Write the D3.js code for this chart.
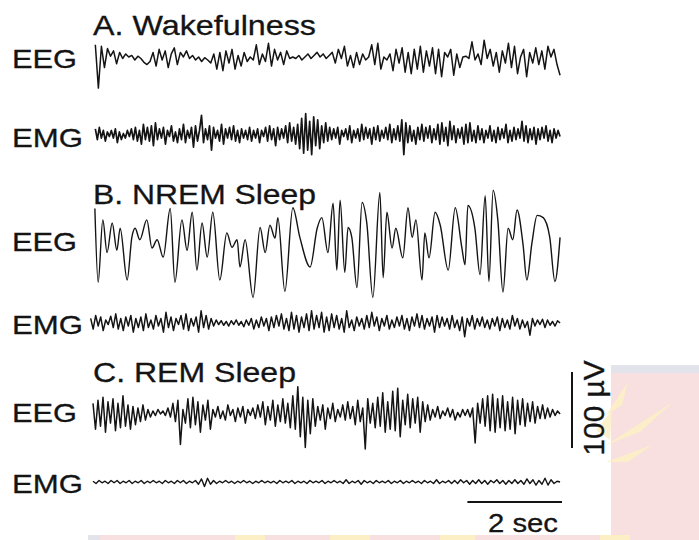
<!DOCTYPE html>
<html><head><meta charset="utf-8">
<script src="https://cdn.jsdelivr.net/npm/d3@7"></script>
<style>html,body{margin:0;padding:0;background:#fff;}svg{display:block}</style>
</head><body><svg id="chart" width="699" height="540"></svg>
<script>
// ---------- data ----------
const panelTitles = ["A. Wakefulness", "B. NREM Sleep", "C. REM Sleep"];
const channelNames = ["EEG", "EMG"];
const timeScaleLabel = "2 sec";
const ampScaleLabel = "100 µV";
const timeBarSec = [8, 10];
const ampBarUV = [-50, 50];

// A. Wakefulness (µV, evenly sampled)
const eegA = [20,-37,18,-10,15,5,12,-5,10,2,8,4,
  6,0,5,2,-3,-6,-2,
  10,-8,14,0,12,-10,8,16,-6,10,4,12,
  2,6,0,4,-2,3,0,-4,
  8,-12,10,-14,12,-4,14,-12,6,-8,10,-2,4,
  0,20,-6,8,-2,22,-8,14,0,10,-6,12,2,
  4,2,6,0,4,8,2,6,10,4,8,2,6,
  10,-4,14,2,18,-8,6,-10,10,-6,8,0,4,
  20,-6,22,-12,4,0,8,-14,14,-4,16,-16,10,
  -18,14,-12,18,-16,12,-8,16,-18,14,-22,10,4,14,-20,8,-10,
  4,5,2,
  24,0,8,-6,26,2,14,-8,10,-16,12,-4,22,-10,18,-18,4,
  14,-22,10,-4,16,-6,12,-12,18,4,14,-6,-20];
const emgA = [8,-6,10,-4,6,-8,4,-2,6,-4,8,-10,4,-6,2,-4,6,-2,8,-6,10,-8,6,-12,14,-6,10,-8,
  12,-14,16,-6,8,-4,10,-12,6,-2,12,-8,4,-10,8,-6,14,-10,6,-4,10,-16,12,-8,6,
  26,-10,8,-6,12,-20,10,-4,6,-8,14,-12,8,-4,10,-6,12,-8,6,-10,8,-4,6,-6,10,
  -8,6,-4,8,-10,6,-2,10,-8,12,-6,8,-14,10,-6,8,-4,12,-10,16,-8,10,-12,14,-18,
  22,-24,28,-20,18,-26,24,-14,20,-18,12,-10,16,-8,10,
  -6,8,-4,10,-12,6,-2,8,-6,12,-10,6,-4,8,-8,14,-6,10,-4,8,-12,10,-6,12,-8,6,-4,10,-6,14,-10,8,-6,12,-8,
  20,-26,16,-10,12,-8,6,-12,10,-6,14,-8,10,-4,12,-10,8,-6,14,-12,
  16,-8,10,-14,18,-6,12,-10,8,-4,10,-12,14,-10,16,-8,6,-10,12,-6,
  8,-10,6,-4,12,-8,6,-10,10,-6,8,-4,14,-10,6,-8,10,-6,8,-4,
  18,-8,12,-10,8,-6,10,-12,8,-6,10,-4,12,-8,6,-10,8,-4,6,-2];

// B. NREM sleep (µV, sampled at turning points; times in s)
const eegBTime = [0.04,0.11,0.21,0.30,0.41,0.51,0.58,0.73,0.83,0.90,1.00,1.15,1.26,1.37,1.50,1.65,1.75,1.90,2.01,2.12,
  2.22,2.33,2.44,2.56,2.71,2.86,2.97,3.08,3.14,3.25,3.42,3.57,3.68,3.78,3.89,3.95,4.10,4.27,4.42,4.64,
  4.79,4.89,5.02,5.13,5.21,5.28,5.38,5.45,5.53,5.64,5.75,5.85,5.98,6.13,6.20,6.28,6.39,6.47,6.62,6.73,
  6.82,6.90,7.03,7.09,7.18,7.31,7.42,7.59,7.74,7.88,7.95,8.01,8.16,8.27,8.38,8.46,8.55,8.65,8.76,8.87,
  8.97,9.06,9.19,9.27,9.38,9.49,9.62,9.76,9.87,9.98];
const eegB = [48,-49,33,-10,29,-7,22,-46,10,22,7,33,-4,7,-16,48,-49,33,-7,43,
  -33,29,-16,43,-46,16,-3,7,-29,7,-69,23,-10,26,9,36,-61,49,10,-29,
  22,36,-10,55,-33,59,-36,23,10,-56,56,29,-69,69,-43,43,-4,22,-17,49,
  10,33,-46,16,-17,43,26,-33,49,-3,-26,52,22,-39,65,-48,72,33,-62,22,
  7,46,0,-46,3,39,36,10,-48,10];
const emgB = [6,-8,10,-4,8,-10,4,-2,9,-6,12,-8,6,-10,8,-4,10,-12,6,-6,
  8,-10,12,-6,4,-8,10,-4,6,-12,14,-6,8,-10,6,-2,10,-8,12,-10,
  6,-4,8,-12,16,-6,10,-8,6,-4,4,-2,3,-3,2,-4,3,-2,4,-3,
  2,-5,4,-3,6,-8,4,-6,8,-4,6,-10,8,-6,10,-4,12,-8,6,-10,
  14,-8,10,-12,8,-6,12,-10,16,-8,10,-6,14,-12,8,-10,12,-6,10,-8,
  6,-12,16,-6,4,-10,8,-4,6,-8,10,-6,14,-4,8,-10,6,-4,10,-8,
  4,-6,8,-4,10,-8,6,-10,8,-4,12,-6,10,-8,6,-4,8,-12,10,-6,
  8,-4,6,-8,10,-6,4,-10,8,-18,6,-4,10,-8,6,-4,8,-6,4,-8,
  6,-4,8,-10,6,-6,4,-8,10,-4,6,-8,4,-6,2,-16,6,-4,4,-2,
  5,-6,4,-3,2,-4,3,0];

// C. REM sleep (µV, evenly sampled)
const eegC = [14,-20,18,-16,22,-24,16,-12,20,-22,14,-18,24,-16,12,-20,10,-14,8,-10,
  12,-8,6,-4,4,-2,6,0,4,-2,8,-4,14,-10,18,-40,6,-12,20,-18,
  22,-14,16,-24,12,-8,18,-20,6,-4,10,-6,4,-8,12,-2,6,-10,8,-4,
  10,-12,6,-2,8,-6,12,-4,16,-14,10,-8,18,-16,12,-10,20,-12,14,-18,
  24,-20,36,-30,22,-44,18,-26,20,-16,10,-8,12,-20,8,-6,14,-10,6,-4,
  12,-8,16,-6,10,-14,18,-10,8,-46,20,-12,14,-18,22,-16,28,-24,16,-20,
  30,-22,34,-30,18,-14,26,-18,20,-12,22,-24,16,-10,12,-8,6,-4,10,-6,
  4,-2,8,-4,6,-8,2,-4,6,-2,6,-4,8,-38,14,-12,20,-16,24,-22,
  26,-24,20,-18,24,-22,16,-20,22,-26,18,-14,20,-16,14,-10,16,-12,10,-6,
  12,-6,8,-4,6,-2,4,0];
const emgC = [1,-2,2,-1,1,-2,2,-1,2,-2,1,-1,2,-2,1,-1,2,-2,1,-1,
  2,-1,1,-2,2,-1,1,-2,2,-1,2,-2,1,-1,2,-3,4,-6,5,-3,
  2,-2,1,-1,2,-1,1,-2,1,-1,2,-1,1,-2,1,-1,2,-1,1,-1,
  1,-2,2,-1,1,-1,2,-2,1,-1,1,-2,2,-1,1,-1,2,-2,1,-1,
  2,-1,1,-2,3,-2,1,-1,2,-3,2,-1,1,-2,2,-1,1,-1,2,-2,
  1,-1,2,-2,1,-1,2,-1,1,-2,2,-1,1,-2,3,-2,1,-1,2,-2,
  2,-2,3,-1,2,-3,2,-2,3,-2,2,-3,2,-1,3,-2,2,-3,2,-2,
  3,-2,2,-3,4,-2,3,-4,2,-3,5,-4,3,-2,1,0];

// ---------- layout ----------
const svg = d3.select("#chart");
const font = "'Liberation Sans', Arial, Helvetica, sans-serif";
const x = d3.scaleLinear().domain([0, 10]).range([93, 561]);
const pxPer100uV = 76;
function yScaleAt(cy){ return d3.scaleLinear().domain([-100, 100]).range([cy + pxPer100uV, cy - pxPer100uV]); }

// watermark (background decoration)
const wm = svg.append("g");
wm.append("rect").attr("x", 611).attr("y", 365).attr("width", 88).attr("height", 175).attr("fill", "#f8dfe0");
wm.append("rect").attr("x", 611).attr("y", 365).attr("width", 88).attr("height", 8).attr("fill", "#e3e3ec");
wm.append("path").attr("d", "M606,415 L628,382 L622,405 Z M606,445 L673,402 L640,432 Z M606,462 L652,445 L628,462 Z M596,430 L612,410 L610,440 Z")
  .attr("fill", "#fcefc6").attr("opacity", 0.9);
wm.append("rect").attr("x", 88).attr("y", 535).attr("width", 611).attr("height", 5).attr("fill", "#f8dfe0");
wm.append("rect").attr("x", 88).attr("y", 535).attr("width", 12).attr("height", 5).attr("fill", "#e3e3ec");
[[235, 30], [330, 40], [440, 35], [600, 30]].forEach(([a, w]) =>
  wm.append("rect").attr("x", a).attr("y", 535).attr("width", w).attr("height", 5).attr("fill", "#fcefc6"));

const panels = [
  { title: panelTitles[0], titleY: 35, titleW: 223,
    traces: [ { name: channelNames[0], values: eegA, t0: 0.05, t1: 9.98, cy: 60, labelY: 68, sw: 1.5 },
              { name: channelNames[1], values: emgA, t0: 0.05, t1: 9.98, cy: 135, labelY: 147, sw: 1.7 } ] },
  { title: panelTitles[1], titleY: 204, titleW: 223,
    traces: [ { name: channelNames[0], values: eegB, times: eegBTime, cy: 245, labelY: 251, sw: 1.4, smooth: true },
              { name: channelNames[1], values: emgB, t0: -0.05, t1: 9.98, cy: 323, labelY: 334, sw: 1.5 } ] },
  { title: panelTitles[2], titleY: 382, titleW: 203,
    traces: [ { name: channelNames[0], values: eegC, t0: 0, t1: 9.98, cy: 414, labelY: 422, sw: 1.5 },
              { name: channelNames[1], values: emgC, t0: 0, t1: 9.98, cy: 482, labelY: 493, sw: 1.4 } ] }
];

const ink = "#141414";
function addText(sel){ return sel.attr("font-family", font).attr("fill", ink).attr("stroke", ink).attr("stroke-width", 0.3); }
panels.forEach(p => {
  addText(svg.append("text").attr("x", 93).attr("y", p.titleY).text(p.title).attr("font-size", 28))
    .attr("textLength", p.titleW).attr("lengthAdjust", "spacingAndGlyphs");
  p.traces.forEach(tr => {
    addText(svg.append("text").attr("x", 12).attr("y", tr.labelY).text(tr.name).attr("font-size", 26))
      .attr("textLength", tr.name === "EEG" ? 65 : 71).attr("lengthAdjust", "spacingAndGlyphs");
    const y = yScaleAt(tr.cy);
    const n = tr.values.length;
    const pts = tr.values.map((v, i) => [tr.times ? tr.times[i] : tr.t0 + i * (tr.t1 - tr.t0) / (n - 1), v]);
    const line = d3.line().x(d => x(d[0])).y(d => y(d[1])).curve(tr.smooth ? d3.curveMonotoneX : d3.curveLinear);
    svg.append("path").attr("d", line(pts)).attr("fill", "none")
      .attr("stroke", ink).attr("stroke-width", tr.sw).attr("stroke-linejoin", "round");
  });
});

// time scale bar
const barY = 502;
svg.append("line").attr("x1", x(timeBarSec[0])).attr("x2", x(timeBarSec[1]) + 1)
  .attr("y1", barY).attr("y2", barY).attr("stroke", ink).attr("stroke-width", 2);
addText(svg.append("text").attr("x", 488).attr("y", 532).text(timeScaleLabel).attr("font-size", 26))
  .attr("textLength", 70).attr("lengthAdjust", "spacingAndGlyphs");

// amplitude scale bar
const yBar = yScaleAt(410);
svg.append("line").attr("x1", 572).attr("x2", 572)
  .attr("y1", yBar(ampBarUV[1])).attr("y2", yBar(ampBarUV[0])).attr("stroke", ink).attr("stroke-width", 2);
addText(svg.append("text").attr("transform", "translate(604,408) rotate(-90) scale(1,1.15)")
  .attr("text-anchor", "middle").text(ampScaleLabel).attr("font-size", 26))
  .attr("textLength", 95).attr("lengthAdjust", "spacingAndGlyphs");
</script>
</body></html>
